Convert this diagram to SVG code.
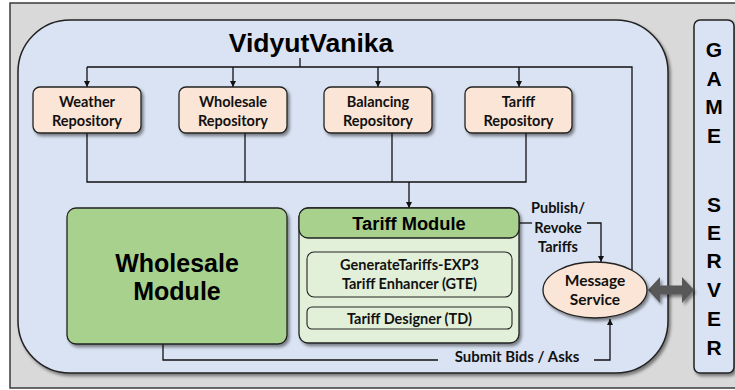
<svg xmlns="http://www.w3.org/2000/svg" width="735" height="390" viewBox="0 0 735 390">
  <defs>
    <filter id="shadow" x="-10%" y="-10%" width="130%" height="130%">
      <feDropShadow dx="2" dy="2.5" stdDeviation="1.6" flood-color="#000" flood-opacity="0.45"/>
    </filter>
    <marker id="arrow" viewBox="0 0 10 10" refX="10" refY="5" markerWidth="6" markerHeight="6" markerUnits="userSpaceOnUse" orient="auto">
      <path d="M0,0 L10,5 L0,10 z" fill="#111"/>
    </marker>
    <style>
      .frame { fill: #d9d9d9; stroke: #3a3a3a; stroke-width: 1.5; }
      .panel { fill: #dae3f3; stroke: #222; stroke-width: 1.5; }
      .repo { fill: #fbe5d6; stroke: #222; stroke-width: 1.3; }
      .green { fill: #a9d18e; stroke: #222; stroke-width: 1.3; }
      .lightgreen { fill: #e2f0d9; stroke: #222; stroke-width: 1.3; }
      .sub { fill: #e2f0d9; stroke: #222; stroke-width: 1.1; }
      .wire { fill: none; stroke: #111; stroke-width: 1.3; }
      .cal { font-family: Lato, "Liberation Sans", sans-serif; font-weight: bold; fill: #111; text-anchor: middle; }
      .ari { font-family: "Liberation Sans", Arial, sans-serif; font-weight: bold; fill: #000; text-anchor: middle; }
    </style>
  </defs>

  <!-- outer frame -->
  <rect class="frame" x="10" y="3" width="730" height="385"/>

  <!-- agent panel -->
  <g id="vidyutvanika">
    <rect class="panel" x="18" y="20" width="650" height="353" rx="52" filter="url(#shadow)"/>
    <text class="ari" x="311" y="52" font-size="26.5">VidyutVanika</text>
  </g>

  <!-- game server -->
  <g id="game-server">
    <rect class="panel" x="694" y="20" width="40" height="353" rx="6" filter="url(#shadow)"/>
    <g class="ari" font-size="21">
      <text x="714" y="57">G</text>
      <text x="714" y="86">A</text>
      <text x="714" y="114">M</text>
      <text x="714" y="143">E</text>
      <text x="714" y="212">S</text>
      <text x="714" y="240">E</text>
      <text x="714" y="268">R</text>
      <text x="714" y="297">V</text>
      <text x="714" y="326">E</text>
      <text x="714" y="355">R</text>
    </g>
  </g>

  <!-- connectors -->
  <g id="connectors">
    <path class="wire" d="M300,58 V67"/>
    <path class="wire" d="M87,67 H632 V270"/>
    <path class="wire" d="M87,67 V87" marker-end="url(#arrow)"/>
    <path class="wire" d="M233,67 V87" marker-end="url(#arrow)"/>
    <path class="wire" d="M378,67 V87" marker-end="url(#arrow)"/>
    <path class="wire" d="M519,67 V87" marker-end="url(#arrow)"/>
    <path class="wire" d="M87,133 V182 H526 V133"/>
    <path class="wire" d="M245,133 V182"/>
    <path class="wire" d="M392,133 V182"/>
    <path class="wire" d="M409,182 V208" marker-end="url(#arrow)"/>
    <path class="wire" d="M519,223 H532"/>
    <path class="wire" d="M587,223 H601 V262" marker-end="url(#arrow)"/>
    <path class="wire" d="M163,344 V360 H440"/>
    <path class="wire" d="M594,360 H610 V319" marker-end="url(#arrow)"/>
    <!-- label backgrounds -->
    <rect x="438" y="347" width="156" height="25" fill="#dae3f3"/>
    <text class="cal" x="558" y="213" font-size="14.5">Publish/</text>
    <text class="cal" x="558" y="233" font-size="14.5">Revoke</text>
    <text class="cal" x="558" y="252" font-size="14.5">Tariffs</text>
    <text class="cal" x="517" y="362" font-size="15">Submit Bids / Asks</text>
    <!-- two-way link to the game server -->
    <path d="M648,290 L660,277 V285.5 H682 V277 L694,290 L682,303 V294.5 H660 V303 z" fill="#595959" filter="url(#shadow)"/>
  </g>

  <!-- repositories -->
  <g id="weather-repository">
    <rect class="repo" x="33" y="87" width="108" height="46" rx="7" filter="url(#shadow)"/>
    <text class="cal" x="87" y="107" font-size="14.5">Weather</text>
    <text class="cal" x="87" y="126" font-size="14.5">Repository</text>
  </g>
  <g id="wholesale-repository">
    <rect class="repo" x="179" y="87" width="108" height="46" rx="7" filter="url(#shadow)"/>
    <text class="cal" x="233" y="107" font-size="14.5">Wholesale</text>
    <text class="cal" x="233" y="126" font-size="14.5">Repository</text>
  </g>
  <g id="balancing-repository">
    <rect class="repo" x="324" y="87" width="108" height="46" rx="7" filter="url(#shadow)"/>
    <text class="cal" x="378" y="107" font-size="14.5">Balancing</text>
    <text class="cal" x="378" y="126" font-size="14.5">Repository</text>
  </g>
  <g id="tariff-repository">
    <rect class="repo" x="465" y="87" width="107" height="46" rx="7" filter="url(#shadow)"/>
    <text class="cal" x="518.5" y="107" font-size="14.5">Tariff</text>
    <text class="cal" x="518.5" y="126" font-size="14.5">Repository</text>
  </g>

  <!-- wholesale module -->
  <g id="wholesale-module">
    <rect class="green" x="67" y="208" width="220" height="136" rx="9" filter="url(#shadow)"/>
    <text class="ari" x="177" y="272" font-size="25">Wholesale</text>
    <text class="ari" x="177" y="300" font-size="25">Module</text>
  </g>

  <!-- tariff module -->
  <g id="tariff-module">
    <rect class="lightgreen" x="299" y="208" width="220" height="135" rx="9" filter="url(#shadow)"/>
    <rect class="green" x="299" y="208" width="220" height="30" rx="9"/>
    <text class="ari" x="409" y="230" font-size="18.3">Tariff Module</text>
    <g id="gte">
      <rect class="sub" x="307" y="252" width="205" height="45" rx="7"/>
      <text class="cal" x="409.5" y="270" font-size="14.5">GenerateTariffs-EXP3</text>
      <text class="cal" x="409.5" y="289" font-size="14.5">Tariff Enhancer (GTE)</text>
    </g>
    <g id="td">
      <rect class="sub" x="307" y="307" width="205" height="22" rx="5"/>
      <text class="cal" x="409.5" y="324" font-size="14.5">Tariff Designer (TD)</text>
    </g>
  </g>

  <!-- message service -->
  <g id="message-service">
    <ellipse class="repo" cx="595" cy="290" rx="52" ry="28" filter="url(#shadow)"/>
    <text class="cal" x="595" y="286" font-size="15.5">Message</text>
    <text class="cal" x="595" y="305" font-size="15.5">Service</text>
  </g>
</svg>
